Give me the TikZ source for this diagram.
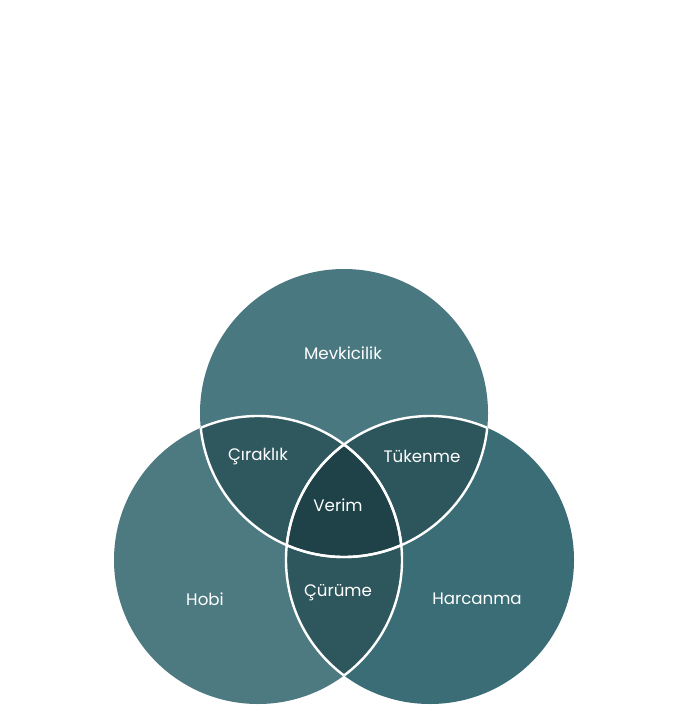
\documentclass[tikz,border=0pt]{standalone}
\usepackage{fontspec}
\setmainfont{Poppins}
\begin{document}
\begin{tikzpicture}[x=0.75pt,y=-0.75pt,
  lab/.style={text=white,font=\fontsize{12.5}{15}\selectfont,inner sep=0pt}]
\useasboundingbox (0,0) rectangle (682,712);
\def\R{144}
\coordinate (T) at (344,413);
\coordinate (L) at (258,560);
\coordinate (Rc) at (430,560);
\fill[color={rgb,255:red,77;green,122;blue,128}] (L) circle (\R);
\fill[color={rgb,255:red,58;green,109;blue,118}] (Rc) circle (\R);
\fill[color={rgb,255:red,74;green,120;blue,128}] (T) circle (\R);
\begin{scope}\clip (T) circle (\R);
  \fill[color={rgb,255:red,47;green,88;blue,94}] (L) circle (\R);
  \fill[color={rgb,255:red,44;green,85;blue,92}] (Rc) circle (\R);
\end{scope}
\begin{scope}\clip (L) circle (\R);
  \fill[color={rgb,255:red,46;green,87;blue,93}] (Rc) circle (\R);
  \clip (Rc) circle (\R);
  \fill[color={rgb,255:red,30;green,66;blue,72}] (T) circle (\R);
\end{scope}
\foreach \a/\b in {T/L,T/Rc,L/T,L/Rc,Rc/T,Rc/L}{
  \begin{scope}\clip (\b) circle (\R);
    \draw[white,line width=1.8pt] (\a) circle (\R);
  \end{scope}}
\node[lab] (m) at (343,353) {Mevkicilik};
\node[lab] (c) at (258,456) {Çıraklık};
\node[lab] (t) at (422,456) {Tükenme};
\node[lab] (v) at (338,505) {Verim};
\node[lab] (h) at (205,599) {Hobi};
\node[lab] (cu) at (338,593) {Çürüme};
\node[lab] (ha) at (477,599) {Harcanma};
\end{tikzpicture}
\end{document}
